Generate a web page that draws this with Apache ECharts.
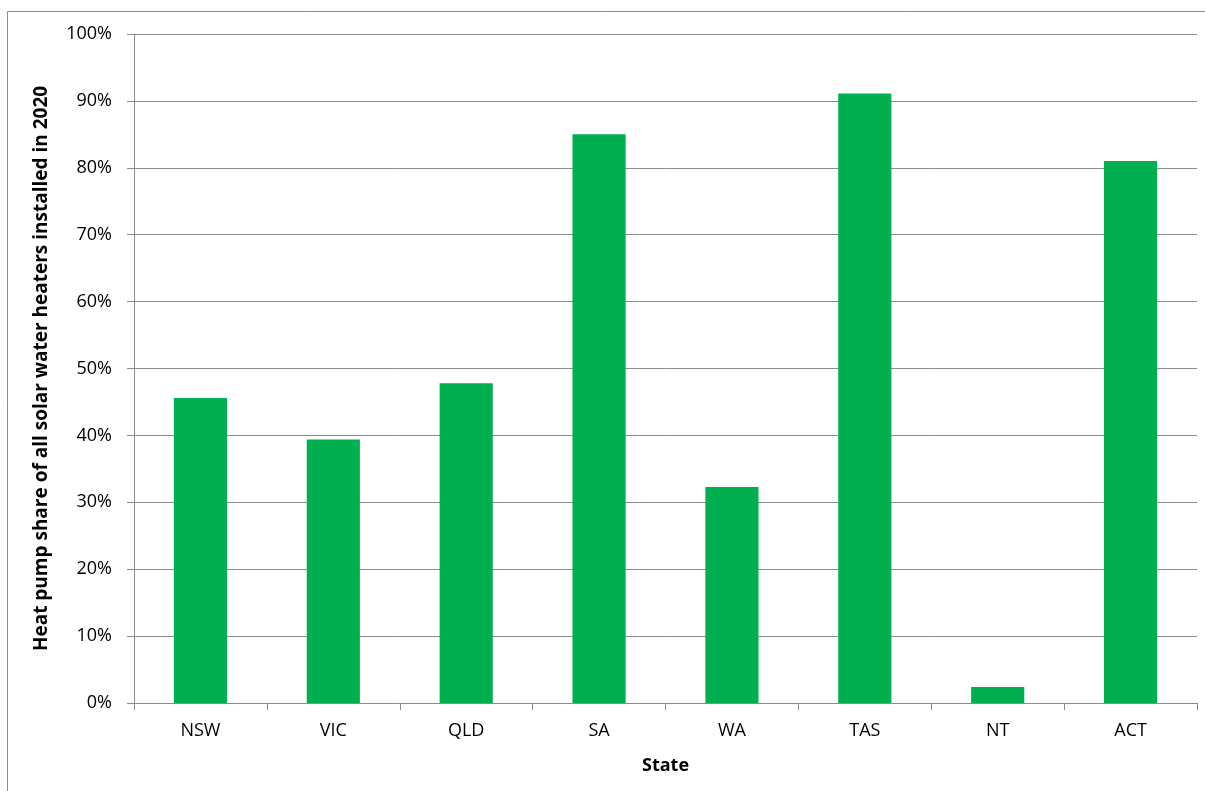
<!DOCTYPE html>
<html>
<head>
<meta charset="utf-8">
<script src="https://cdn.jsdelivr.net/npm/echarts@6/dist/echarts.min.js"></script>
<style>
  html, body { margin: 0; padding: 0; background: #fff; }
  #chart { width: 1205px; height: 791px; }
</style>
</head>
<body>
<div id="chart"></div>
<script>
// Heat pump share of solar water heater installs by state, 2020 (percent)
const states = ['NSW', 'VIC', 'QLD', 'SA', 'WA', 'TAS', 'NT', 'ACT'];
const heatPumpShare = [45.6, 39.4, 47.8, 85.0, 32.3, 91.1, 2.4, 81.0];
const yTicks = [0, 10, 20, 30, 40, 50, 60, 70, 80, 90, 100];

const FONT = 'Open Sans';
const chart = echarts.init(document.getElementById('chart'), null, { renderer: 'canvas' });

chart.setOption({
  animation: false,
  backgroundColor: '#ffffff',
  graphic: [{
    type: 'rect',
    shape: { x: 7.5, y: 11.5, width: 1220, height: 800 },
    style: { fill: 'none', stroke: '#8c8c8c', lineWidth: 1 },
    silent: true
  }],
  grid: { left: 134, right: 8, top: 34, bottom: 88 },
  xAxis: {
    type: 'category',
    data: states,
    name: 'State',
    nameLocation: 'middle',
    nameGap: 54,
    nameTextStyle: { fontFamily: FONT, fontSize: 18, fontWeight: 'bold', color: '#000' },
    axisLine: { show: true, lineStyle: { color: '#8c8c8c', width: 1 } },
    axisTick: { show: true, alignWithLabel: false, length: 7, lineStyle: { color: '#8c8c8c' } },
    axisLabel: { fontFamily: FONT, fontSize: 18, color: '#000', margin: 19 }
  },
  yAxis: {
    type: 'value',
    min: yTicks[0],
    max: yTicks[yTicks.length - 1],
    interval: 10,
    name: 'Heat pump share of all solar water heaters installed in 2020',
    nameLocation: 'middle',
    nameGap: 83,
    nameTextStyle: { fontFamily: FONT, fontSize: 19, fontWeight: 'bold', color: '#000' },
    axisLine: { show: true, lineStyle: { color: '#8c8c8c', width: 1 } },
    axisTick: { show: true, length: 7, lineStyle: { color: '#8c8c8c' } },
    axisLabel: { fontFamily: FONT, fontSize: 18, color: '#000', margin: 22, formatter: v => v + '%' },
    splitLine: { show: true, lineStyle: { color: '#8c8c8c', width: 1 } }
  },
  series: [{
    type: 'bar',
    data: heatPumpShare,
    barWidth: '40%',
    itemStyle: { color: '#00b050' }
  }]
});
</script>
</body>
</html>
